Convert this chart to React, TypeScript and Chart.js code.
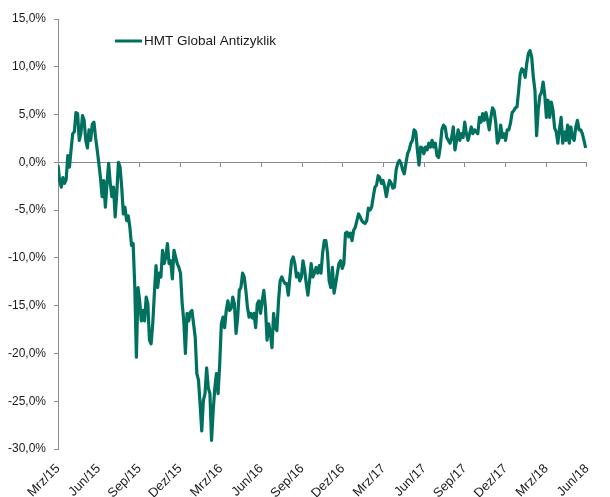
import React, { useEffect, useRef } from "react";
import { Chart, registerables } from "chart.js";

Chart.register(...registerables);

// Quarter tick labels (every 3 months starting March 2015)
const TICK_LABELS = [
  "Mrz/15", "Jun/15", "Sep/15", "Dez/15",
  "Mrz/16", "Jun/16", "Sep/16", "Dez/16",
  "Mrz/17", "Jun/17", "Sep/17", "Dez/17",
  "Mrz/18", "Jun/18",
];

const SERIES_LABEL = "HMT Global Antizyklik";

// Performance in % sampled at regular intervals from March 2015 to end of May 2018
const VALUES = [
  -0.3, -1.9, -2.6, -1.6, -2.2, -1.8, 0.7, -0.5, 1.3, 3.0,
  3.2, 5.2, 5.1, 2.3, 3.0, 4.9, 4.4, 2.3, 1.5, 3.4,
  2.3, 4.0, 4.2, 2.6, 1.3, -0.1, -1.6, -3.6, -1.9, -4.7,
  -2.2, -0.1, -2.2, -3.6, -2.6, -5.7, -3.2, 0.0, -0.5, -2.6,
  -5.4, -4.7, -6.1, -5.6, -6.8, -8.7, -8.5, -13.0, -20.4, -13.1,
  -14.5, -16.6, -15.5, -16.6, -14.1, -14.8, -18.6, -19.0, -16.9, -13.7,
  -10.8, -13.1, -11.6, -12.0, -9.2, -10.6, -9.9, -8.5, -10.6, -10.3,
  -12.2, -9.2, -9.9, -10.6, -11.0, -11.6, -14.7, -16.6, -20.0, -15.8,
  -16.6, -15.7, -15.5, -16.9, -18.3, -22.1, -22.8, -25.3, -28.1, -24.9,
  -24.2, -21.5, -23.6, -24.2, -29.1, -26.0, -23.6, -22.1, -24.2, -21.1,
  -16.9, -16.2, -17.3, -15.5, -14.5, -15.5, -15.3, -14.1, -14.8, -17.9,
  -16.2, -13.4, -13.1, -11.6, -12.0, -13.4, -15.2, -16.2, -15.8, -16.3,
  -15.8, -17.3, -14.8, -14.5, -15.8, -14.5, -13.4, -15.2, -18.6, -16.9,
  -17.9, -19.4, -15.8, -17.3, -17.6, -14.5, -12.4, -12.0, -12.4, -12.7,
  -12.7, -13.9, -12.0, -10.3, -9.9, -10.6, -12.0, -11.6, -12.4, -12.0,
  -10.3, -11.3, -12.7, -13.9, -12.4, -10.6, -12.0, -11.6, -11.0, -11.6,
  -10.8, -11.6, -9.5, -8.2, -8.2, -9.5, -12.4, -13.1, -11.0, -13.7,
  -12.7, -11.6, -10.6, -10.3, -11.1, -10.6, -7.4, -7.3, -7.8, -7.4,
  -8.2, -7.1, -6.8, -6.1, -5.4, -5.7, -6.1, -6.3, -6.4, -6.1,
  -4.8, -5.0, -4.7, -3.6, -2.6, -2.4, -1.4, -1.6, -2.2, -1.9,
  -2.6, -3.6, -2.6, -1.9, -2.2, -2.7, -2.6, -0.8, -0.1, 0.2,
  -0.1, -0.8, -1.2, -0.1, 0.9, 1.3, 2.0, 2.3, 3.4, 3.2,
  1.3, -0.3, 1.6, 1.5, 0.9, 1.6, 1.3, 2.0, 1.6, 2.3,
  1.6, 2.0, 0.7, 0.5, 1.6, 3.4, 3.9, 3.7, 2.6, 2.3,
  2.0, 2.6, 3.7, 1.3, 2.3, 3.4, 2.3, 3.0, 2.6, 4.2,
  3.0, 2.3, 3.0, 3.7, 3.0, 3.4, 3.2, 3.0, 4.7, 4.2,
  5.1, 4.4, 5.2, 4.4, 3.4, 4.7, 5.7, 5.4, 4.1, 2.0,
  2.4, 3.9, 2.6, 3.0, 2.3, 3.4, 3.4, 4.1, 5.2, 5.4,
  5.7, 5.8, 7.5, 9.3, 9.8, 9.6, 8.9, 10.4, 11.4, 11.7,
  11.0, 8.9, 7.5, 2.8, 5.5, 7.0, 7.3, 8.4, 7.0, 4.7,
  6.5, 4.7, 6.3, 5.5, 3.6, 3.2, 2.0, 3.5, 4.7, 2.0,
  3.2, 2.3, 3.9, 2.0, 3.7, 2.6, 2.3, 3.7, 4.4, 3.4,
  3.4, 3.0, 2.3, 1.5,
];

// Data covers ~38.9 months (Mrz/15 .. end of May/18)
const DATA_SPAN_MONTHS = 38.9;
const AXIS_MAX_MONTHS = 39;
const MONTHS_PER_TICK = 3;
const Y_MIN = -30;
const Y_MAX = 15;
const Y_STEP = 5;

const LINE_COLOR = "#00705f";
const AXIS_COLOR = "#8c8c8c";
const TEXT_COLOR = "#1a1a1a";
const FONT_FAMILY = '"Liberation Sans", Arial, sans-serif';

const insideLegend = {
  id: "insideLegend",
  afterDraw(chart: any) {
    const { ctx, chartArea } = chart;
    const ds = chart.data.datasets[0];
    const x = chartArea.left + 57;
    const y = chartArea.top + 22;
    ctx.save();
    ctx.strokeStyle = ds.borderColor;
    ctx.lineWidth = 3;
    ctx.beginPath();
    ctx.moveTo(x, y);
    ctx.lineTo(x + 27, y);
    ctx.stroke();
    ctx.font = `13.5px ${FONT_FAMILY}`;
    ctx.fillStyle = TEXT_COLOR;
    ctx.textBaseline = "middle";
    ctx.textAlign = "left";
    ctx.fillText(ds.label, x + 29, y + 0.5);
    ctx.restore();
  },
};

export default function App() {
  const canvasRef = useRef<HTMLCanvasElement | null>(null);

  useEffect(() => {
    if (!canvasRef.current) return;
    const step = DATA_SPAN_MONTHS / (VALUES.length - 1);
    const points = VALUES.map((v, i) => ({ x: i * step, y: v }));

    const chart = new Chart(canvasRef.current, {
      type: "line",
      data: {
        datasets: [
          {
            label: SERIES_LABEL,
            data: points,
            borderColor: LINE_COLOR,
            backgroundColor: LINE_COLOR,
            borderWidth: 3.2,
            pointRadius: 0,
            tension: 0,
            borderJoinStyle: "round",
            xAxisID: "x",
            yAxisID: "y",
          },
        ],
      },
      options: {
        animation: false,
        responsive: true,
        maintainAspectRatio: false,
        layout: { padding: { left: 0, top: 19, right: 12, bottom: 0 } },
        plugins: {
          legend: { display: false },
          tooltip: { enabled: false },
        },
        scales: {
          x: {
            type: "linear",
            position: "bottom",
            min: 0,
            max: AXIS_MAX_MONTHS,
            grid: { display: false, drawTicks: false },
            border: { display: false },
            afterFit: (s: any) => {
              s.height = 48;
            },
            ticks: {
              stepSize: MONTHS_PER_TICK,
              autoSkip: false,
              maxRotation: 45,
              minRotation: 45,
              padding: 12,
              color: TEXT_COLOR,
              font: { family: FONT_FAMILY, size: 13 },
              callback: (v: any) => TICK_LABELS[Math.round(Number(v) / MONTHS_PER_TICK)] ?? "",
            },
          },
          x2: {
            type: "linear",
            axis: "x",
            position: { y: 0 },
            min: 0,
            max: AXIS_MAX_MONTHS,
            grid: {
              drawOnChartArea: false,
              drawTicks: true,
              tickLength: 4,
              color: AXIS_COLOR,
            },
            border: { display: true, color: AXIS_COLOR, width: 1 },
            ticks: { stepSize: MONTHS_PER_TICK, display: false },
          },
          y: {
            type: "linear",
            position: "left",
            min: Y_MIN,
            max: Y_MAX,
            afterFit: (s: any) => {
              s.width = 58;
            },
            grid: {
              drawOnChartArea: false,
              drawTicks: true,
              tickLength: 4,
              color: AXIS_COLOR,
            },
            border: { display: true, color: AXIS_COLOR, width: 1 },
            ticks: {
              stepSize: Y_STEP,
              padding: 8,
              color: TEXT_COLOR,
              font: { family: FONT_FAMILY, size: 12 },
              callback: (v: any) => Number(v).toFixed(1).replace(".", ",") + "%",
            },
          },
        },
      },
      plugins: [insideLegend],
    });

    return () => chart.destroy();
  }, []);

  return (
    <div style={{ position: "fixed", left: 0, top: 0, width: 610, height: 497, background: "#fff" }}>
      <canvas ref={canvasRef} />
    </div>
  );
}
